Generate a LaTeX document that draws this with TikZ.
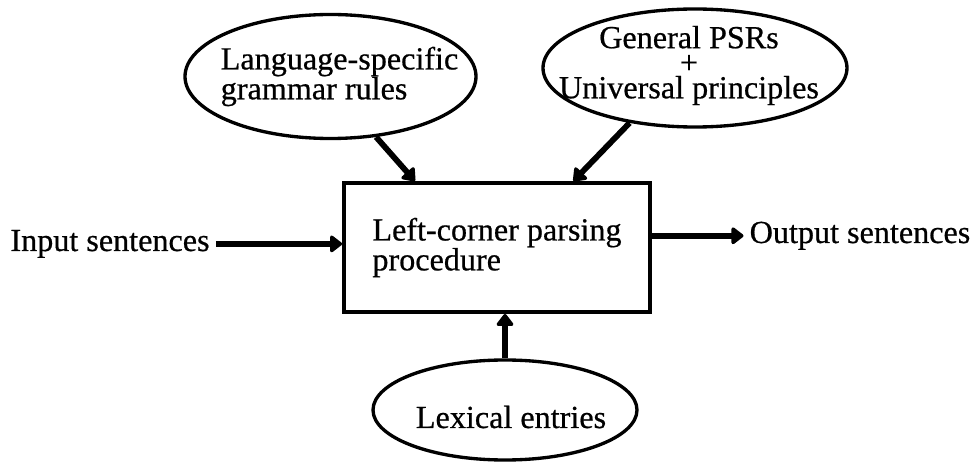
\documentclass[tikz,border=0pt]{standalone}
\usepackage{fontspec}
\setmainfont{Liberation Serif}[FakeBold=0.6]
\usetikzlibrary{positioning,arrows.meta,shapes.geometric}
\tikzset{
 bubble/.style={draw, ellipse, line width=1.9pt, inner sep=0pt},
 procbox/.style={draw, rectangle, line width=2.2pt, minimum width=6.12cm, minimum height=2.58cm, align=left},
 feed/.style={line width=3.3pt, -{Triangle[round, length=7.5pt, width=11pt]}},
}

\begin{document}
\begin{tikzpicture}[font=\fontsize{18.3}{17}\selectfont]
\useasboundingbox (0,0) rectangle (19.5,9.26);
\node[procbox] (parser) at (9.94,4.31) {Left-corner parsing\\procedure};
% knowledge fed into the parser
\node[bubble, minimum width=5.82cm, minimum height=2.48cm] (lang) at (6.61,7.73) {};
\node[align=left, xshift=0.18cm] (langtxt) at (lang) {Language-specific\\grammar rules};
\node[bubble, minimum width=6.08cm, minimum height=2.36cm] (psr) at (13.9,7.9) {};
\node[align=center, xshift=-0.12cm, yshift=0.05cm] (psrtxt) at (psr) {General PSRs\\[-2.75pt]+\\[-2.75pt]Universal principles};
\node[bubble, minimum width=5.28cm, minimum height=2.0cm] (lex) at (10.1,1.06) {};
\node[xshift=0.12cm, yshift=-0.14cm] (lextxt) at (lex) {Lexical entries};
\node[anchor=base] (in) at (2.2,4.24) {Input sentences};
\node[anchor=base] (out) at (17.2,4.4) {Output sentences};
\draw[feed] (lang.-53) -- (parser.141);
\draw[feed] (psr.-140) -- (parser.41);
\draw[feed] (lex.north) -- (lex.north |- parser.south);
\draw[feed] (in.east) -- (in.east -| parser.west);
\draw[feed] (parser.east |- out.west) -- (out.west);
\end{tikzpicture}
\end{document}
